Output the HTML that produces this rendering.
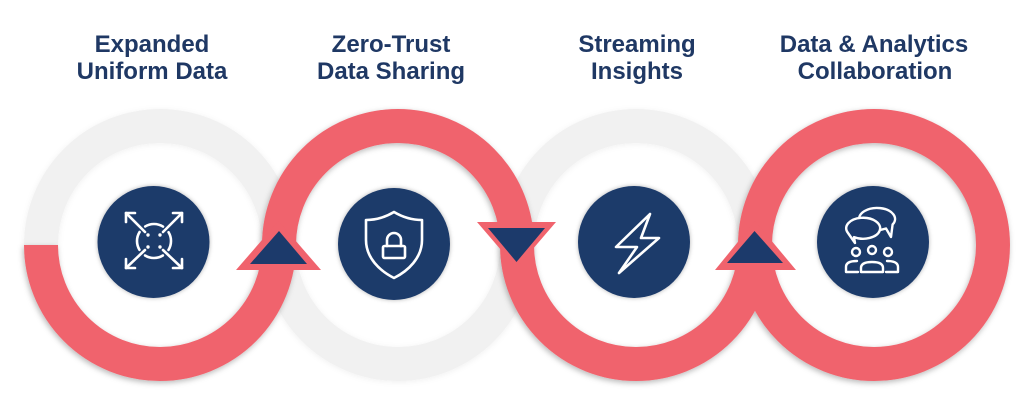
<!DOCTYPE html>
<html>
<head>
<meta charset="utf-8">
<style>
  html, body { margin: 0; padding: 0; background: #ffffff; }
  body { width: 1024px; height: 405px; overflow: hidden; }
  svg { display: block; }
  text { font-family: "Liberation Sans", sans-serif; font-weight: bold; font-size: 24px; fill: #1f3864; }
</style>
</head>
<body>
<svg width="1024" height="405" viewBox="0 0 1024 405" xmlns="http://www.w3.org/2000/svg">
  <defs>
    <filter id="sh" x="-20%" y="-20%" width="140%" height="140%">
      <feDropShadow dx="-1" dy="2" stdDeviation="3" flood-color="#000" flood-opacity="0.28"/>
    </filter>
    <filter id="shg" x="-20%" y="-20%" width="140%" height="140%">
      <feDropShadow dx="0" dy="1" stdDeviation="3" flood-color="#000" flood-opacity="0.06"/>
    </filter>
    <filter id="shc" x="-20%" y="-20%" width="140%" height="140%">
      <feDropShadow dx="0" dy="0" stdDeviation="2" flood-color="#000" flood-opacity="0.3"/>
    </filter>
  </defs>

  <!-- gray half rings -->
  <g fill="none" stroke="#f1f1f1" stroke-width="34" filter="url(#shg)">
    <path d="M 41 245 A 119 119 0 0 1 279 245"/>
    <path d="M 279 245 A 119 119 0 0 0 517 245"/>
    <path d="M 517 245 A 119 119 0 0 1 755 245"/>
  </g>

  <!-- red S path -->
  <path d="M 41 245 A 119 119 0 0 0 279 245 A 119 119 0 0 1 517 245 A 119 119 0 0 0 755 245 A 119 119 0 0 1 993 245 A 119 119 0 0 1 755 245"
        fill="none" stroke="#f0636d" stroke-width="34" filter="url(#sh)"/>

  <!-- triangles -->
  <polygon points="278.5,221 236,270 321,270" fill="#f0636d"/>
  <polygon points="279,231 250,264 307,264" fill="#1c3a6b"/>

  <polygon points="477,222 556,222 516.5,268" fill="#f0636d"/>
  <polygon points="488,228 545,228 516.5,262" fill="#1c3a6b"/>

  <polygon points="755,221 715,270 796,270" fill="#f0636d"/>
  <polygon points="754.5,231 727,263 783,263" fill="#1c3a6b"/>

  <!-- navy circles -->
  <g fill="#1c3a6b" filter="url(#shc)">
    <circle cx="153.5" cy="242" r="56"/>
    <circle cx="394" cy="244" r="56"/>
    <circle cx="634" cy="242" r="56"/>
    <circle cx="873" cy="242" r="56"/>
  </g>

  <!-- icon 1: expand -->
  <g fill="none" stroke="#ffffff" stroke-width="2.6" stroke-linecap="round" stroke-linejoin="round">
    <circle cx="154" cy="241" r="17" stroke-dasharray="18.7 8" stroke-dashoffset="9.35"/>
    <line x1="145" y1="232" x2="126" y2="213"/>
    <line x1="163" y1="232" x2="182" y2="213"/>
    <line x1="145" y1="250" x2="126" y2="268"/>
    <line x1="163" y1="250" x2="182" y2="268"/>
    <polyline points="126,222 126,213 135,213"/>
    <polyline points="173,213 182,213 182,222"/>
    <polyline points="126,259 126,268 135,268"/>
    <polyline points="173,268 182,268 182,259"/>
  </g>
  <g fill="#ffffff">
    <circle cx="148" cy="235" r="1.7"/>
    <circle cx="160" cy="235" r="1.7"/>
    <circle cx="148" cy="247" r="1.7"/>
    <circle cx="160" cy="247" r="1.7"/>
  </g>

  <!-- icon 2: shield with lock -->
  <g fill="none" stroke="#ffffff" stroke-width="2.6" stroke-linecap="round" stroke-linejoin="round">
    <path d="M394 212 C 384 218, 374 220, 366 220 L366 240 C 366 258, 380 271, 394 278 C 408 271, 422 258, 422 240 L 422 220 C 414 220, 404 218, 394 212 Z"/>
    <rect x="383" y="246" width="22" height="12" rx="1.5"/>
    <path d="M387 246 V240 A7 7 0 0 1 401 240 V246"/>
  </g>

  <!-- icon 3: lightning -->
  <polygon points="650,214 616,247 637,247 619,273 659,238 641,238" fill="none" stroke="#ffffff" stroke-width="2.6" stroke-linejoin="round"/>

  <!-- icon 4: chat + people -->
  <g stroke="#ffffff" stroke-width="2.4" stroke-linejoin="round" stroke-linecap="round">
    <path d="M 886 228.5 A 18 11 0 1 1 892.6 224.5 L 891 237 Z" fill="#1c3a6b"/>
    <path d="M 848 233 A 17 10.5 0 1 1 854 237.1 L 855 243 Z" fill="#1c3a6b"/>
  </g>
  <g fill="none" stroke="#ffffff" stroke-width="2.4" stroke-linejoin="round" stroke-linecap="round">
    <circle cx="856" cy="252" r="4"/>
    <circle cx="872" cy="250" r="4"/>
    <circle cx="888" cy="252" r="4"/>
    <path d="M861 272 L861 268 Q861 262 872 262 Q883 262 883 268 L883 272 Z"/>
    <path d="M857 261 Q846 261 846 267 L846 272 L858 272"/>
    <path d="M887 261 Q898 261 898 267 L898 272 L886 272"/>
  </g>

  <!-- titles -->
  <text x="152" y="52" text-anchor="middle">Expanded</text>
  <text x="152" y="79" text-anchor="middle">Uniform Data</text>
  <text x="391" y="52" text-anchor="middle">Zero-Trust</text>
  <text x="391" y="79" text-anchor="middle">Data Sharing</text>
  <text x="637" y="52" text-anchor="middle">Streaming</text>
  <text x="637" y="79" text-anchor="middle">Insights</text>
  <text x="874" y="52" text-anchor="middle">Data &amp; Analytics</text>
  <text x="875" y="79" text-anchor="middle">Collaboration</text>
</svg>
</body>
</html>
